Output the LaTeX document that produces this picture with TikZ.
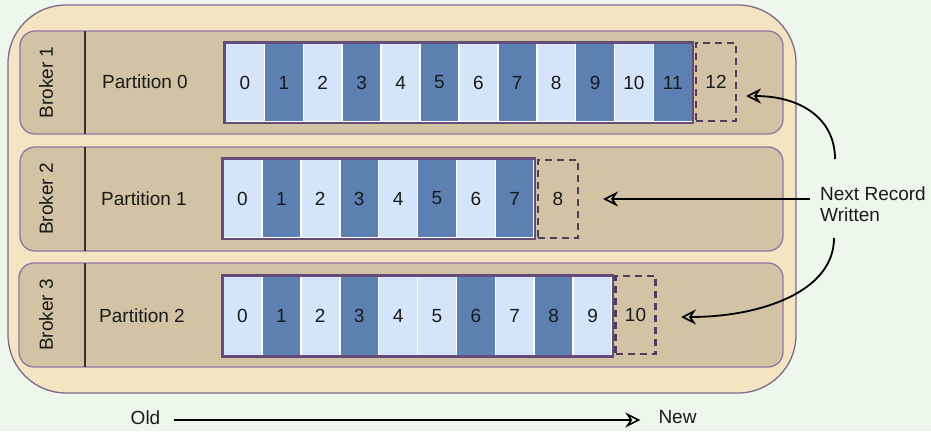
\documentclass[tikz,border=0pt]{standalone}
\usepackage{fontspec}
\setmainfont{Liberation Sans}
\usetikzlibrary{arrows.meta}
\definecolor{bggreen}{HTML}{EEF7EC}
\definecolor{outerfill}{HTML}{F5E4C1}
\definecolor{rowfill}{HTML}{D1C3A4}
\definecolor{rowline}{HTML}{9673A6}
\definecolor{outerline}{HTML}{7E6A8E}
\definecolor{lightcell}{HTML}{D4E4F9}
\definecolor{darkcell}{HTML}{5D80B3}
\definecolor{boxline}{HTML}{634C77}
\definecolor{dashline}{HTML}{4F3D60}
\definecolor{txt}{HTML}{1A1A1A}
\begin{document}
\begin{tikzpicture}[x=1pt,y=-1pt,
  font=\fontsize{19}{21}\selectfont, text=txt,
  rowbox/.style={draw=rowline, line width=1.3pt, fill=rowfill, rounded corners=15pt},
  divider/.style={draw=black!80, line width=1.5pt},
  cell/.style={draw=white, line width=1.6pt, minimum width=38.9pt, minimum height=79pt, inner sep=0pt},
  outline/.style={draw=boxline, line width=2.6pt},
  nextcell/.style={draw=dashline, dash pattern=on 7pt off 5pt, line width=2.4pt, minimum width=40pt, minimum height=78pt, inner sep=0pt},
  conn/.style={draw=black, line width=1.8pt, -{Stealth[open, length=15pt, width=15pt, inset=5pt, line width=1.6pt]}},
  lbl/.style={inner sep=0pt}
]
\useasboundingbox (0,0) rectangle (931,431);
\fill[bggreen] (0,0) rectangle (931,431);
\draw[draw=outerline, line width=1.3pt, fill=outerfill, rounded corners=58pt] (8,5) rectangle (796,393);

% rows
\draw[rowbox] (20,31) rectangle (783,134);
\draw[rowbox] (20,147) rectangle (783,251);
\draw[rowbox] (19,263) rectangle (783,367);
\draw[divider] (85,31) -- (85,134);
\draw[divider] (85,147) -- (85,251);
\draw[divider] (85,263) -- (85,367);

% labels
\node[lbl, rotate=90] (b1) at (46,82.5) {Broker 1};
\node[lbl, rotate=90] (b2) at (46,199) {Broker 2};
\node[lbl, rotate=90] (b3) at (46,315) {Broker 3};
\node[lbl] (pl0) at (145,82) {Partition 0};
\node[lbl] (pl1) at (144,199) {Partition 1};
\node[lbl] (pl2) at (142,316) {Partition 2};

% partition 0
\foreach \col [count=\i from 0] in {lightcell,darkcell,lightcell,darkcell,lightcell,darkcell,lightcell,darkcell,lightcell,darkcell,lightcell,darkcell}
  \node[cell, fill=\col] (p0c\i) at (225.5+38.9*\i+19.45, 82.5) {\i};
\draw[outline] (p0c0.north west) rectangle (p0c11.south east);
\node[nextcell] (p0n) at (716,82) {12};

% partition 1
\foreach \col [count=\i from 0] in {lightcell,darkcell,lightcell,darkcell,lightcell,darkcell,lightcell,darkcell}
  \node[cell, fill=\col] (p1c\i) at (223+38.9*\i+19.45, 198.5) {\i};
\draw[outline] (p1c0.north west) rectangle (p1c7.south east);
\node[nextcell] (p1n) at (558,199) {8};

% partition 2
\foreach \col [count=\i from 0] in {lightcell,darkcell,lightcell,darkcell,lightcell,lightcell,darkcell,lightcell,darkcell,lightcell}
  \node[cell, fill=\col] (p2c\i) at (223+38.9*\i+19.45, 316) {\i};
\draw[outline] (p2c0.north west) rectangle (p2c9.south east);
\node[nextcell] (p2n) at (635.5,315) {10};

% next record
\node[lbl, align=left, anchor=north west] (next) at (820,186.5) {Next Record\\Written};
\coordinate (s1) at (835,159);
\coordinate (e1) at (746,96);
\coordinate (s2) at (810,199);
\coordinate (e2) at (603,199);
\coordinate (s3) at (834,238);
\coordinate (e3) at (681,317);
\draw[conn] (s1) .. controls (835,118) and (800,96) .. (e1);
\draw[conn] (s2) -- (e2);
\draw[conn] (s3) .. controls (834,292) and (760,317) .. (e3);

% old / new
\node[lbl] (old) at (145.5,417.5) {Old};
\node[lbl] (new) at (677.5,417.5) {New};
\draw[conn] ([xshift=14pt,yshift=-2.5pt]old.east) -- ([xshift=-18pt,yshift=-2.5pt]new.west);
\end{tikzpicture}
\end{document}
